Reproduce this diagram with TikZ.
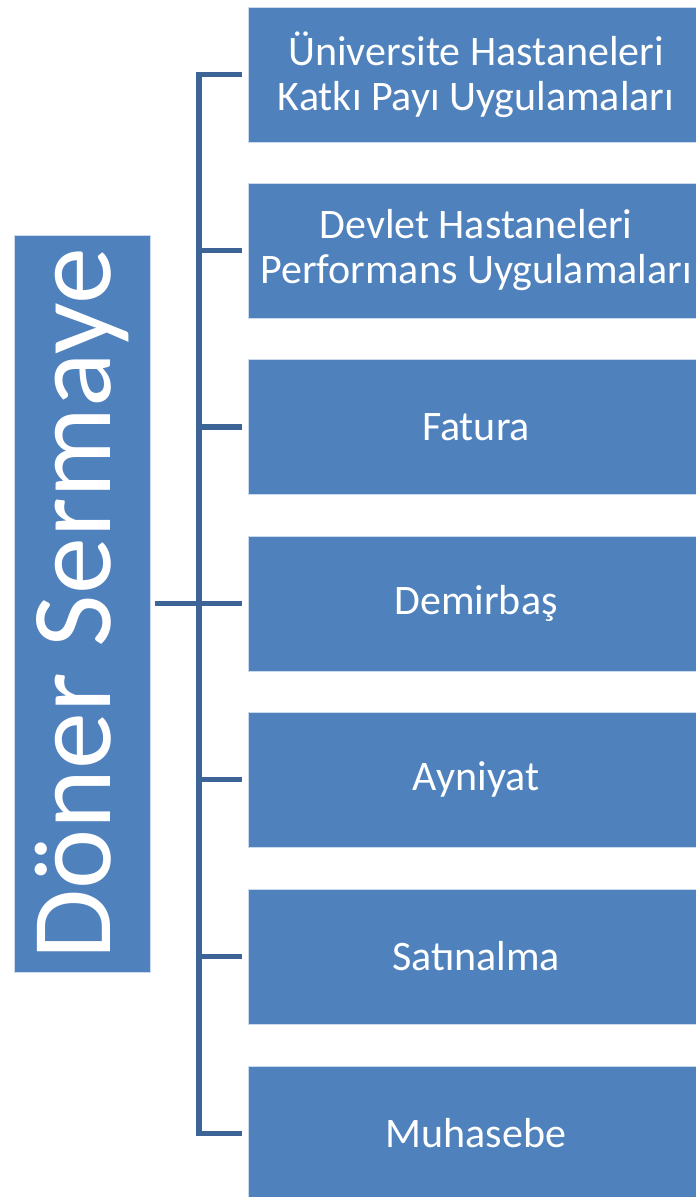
\documentclass[tikz,border=0pt]{standalone}
\usepackage{fontspec}
\setmainfont{Carlito}
\definecolor{boxblue}{HTML}{4F81BD}
\definecolor{linkblue}{HTML}{3D6496}
\tikzset{
  itembox/.style={fill=boxblue, draw=white!70!boxblue, line width=0.8pt, minimum width=456pt, minimum height=135pt, inner sep=0pt, text=white, align=center, font=\fontsize{42}{45}\selectfont},
  mainbox/.style={fill=boxblue, draw=white!70!boxblue, line width=0.8pt, minimum width=136pt, minimum height=737pt, inner sep=0pt},
  maintext/.style={rotate=90, text=white, inner sep=0pt, font=\fontsize{114}{114}\selectfont},
  link/.style={draw=linkblue, line width=5.5pt}
}
\begin{document}
\begin{tikzpicture}[x=1pt, y=-1pt]
\useasboundingbox (0,0) rectangle (696,1197);
\clip (0,0) rectangle (696,1197);
\node[mainbox] (ds) at (82,603.5) {};
\node[maintext] (dst) at (ds.center) {Döner Sermaye};
\node[itembox] (b1) at (476,74.5) {Üniversite Hastaneleri\\Katkı Payı Uygulamaları};
\node[itembox] (b2) at (476,250.5) {Devlet Hastaneleri\\Performans Uygulamaları};
\node[itembox] (b3) at (476,427) {Fatura};
\node[itembox] (b4) at (476,603.5) {Demirbaş};
\node[itembox] (b5) at (476,779.5) {Ayniyat};
\node[itembox] (b6) at (476,956.5) {Satınalma};
\node[itembox] (b7) at (476,1133.5) {Muhasebe};
\coordinate (spinetop) at (199,74.5);
\coordinate (spinebot) at (199,1133.5);
\coordinate (hub) at (199,603.5);
\draw[link, line cap=butt, line join=miter] ([xshift=-5.5pt]b1.west) -- (spinetop) -- (spinebot) -- ([xshift=-5.5pt]b7.west);
\draw[link] ([xshift=5pt]ds.east) -- (hub);
\foreach \b/\y in {b2/250.5, b3/427, b4/603.5, b5/779.5, b6/956.5}{
  \draw[link] (199,\y) -- ([xshift=-5.5pt]\b.west);
}
\end{tikzpicture}
\end{document}
